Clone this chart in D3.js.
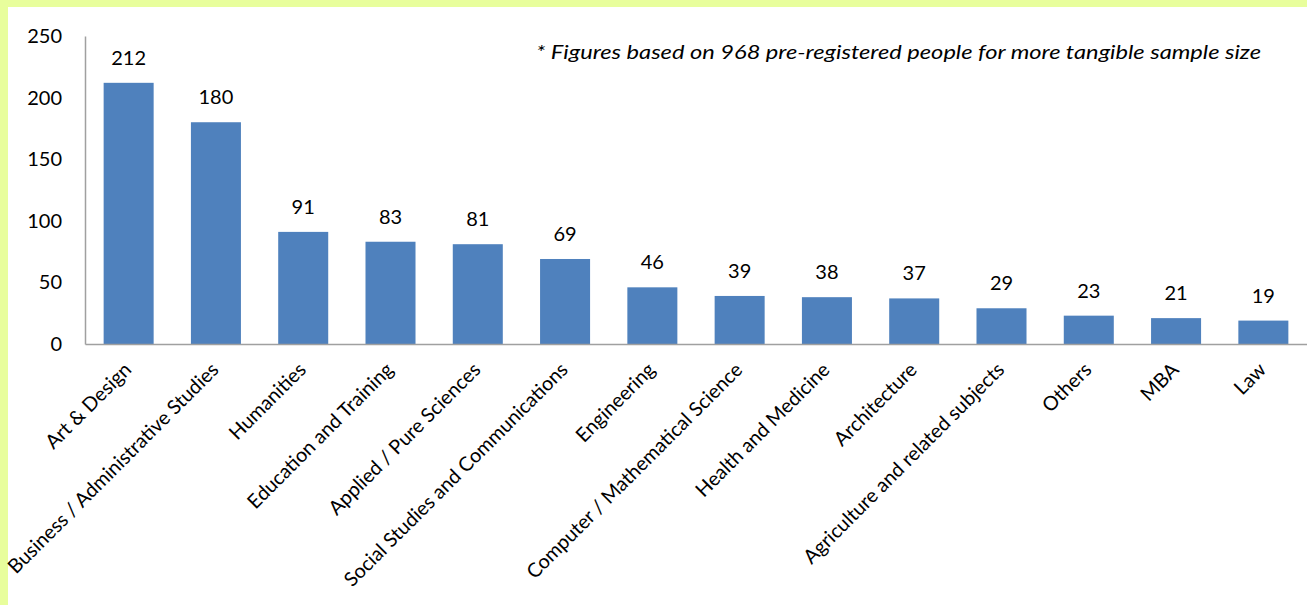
<!DOCTYPE html>
<html>
<head>
<meta charset="utf-8">
<script src="https://cdn.jsdelivr.net/npm/d3@7"></script>
<style>
  html, body { margin: 0; padding: 0; background: #e8fe9c; }
  svg { display: block; }
  text { font-family: Lato, "Open Sans", sans-serif; fill: #000; }
</style>
</head>
<body>
<svg id="chart" width="1307" height="605"></svg>
<script>
// Pre-registered people by field of study
const categories = [
  "Art & Design",
  "Business / Administrative Studies",
  "Humanities",
  "Education and Training",
  "Applied / Pure Sciences",
  "Social Studies and Communications",
  "Engineering",
  "Computer / Mathematical Science",
  "Health and Medicine",
  "Architecture",
  "Agriculture and related subjects",
  "Others",
  "MBA",
  "Law"
];
const values = [212, 180, 91, 83, 81, 69, 46, 39, 38, 37, 29, 23, 21, 19];
const yTicks = [0, 50, 100, 150, 200, 250];
const note = "* Figures based on 968 pre-registered people for more tangible sample size";

const W = 1307, H = 605;
const svg = d3.select("#chart");

// white panel inside the light green frame
svg.append("rect")
  .attr("x", 8).attr("y", 7)
  .attr("width", W - 8).attr("height", H - 7)
  .attr("fill", "#fff");

const plot = { left: 85, right: 1307, top: 36, bottom: 344 };

const x = d3.scaleBand()
  .domain(categories)
  .range([plot.left, plot.right])
  .paddingInner(0.427)
  .paddingOuter(0.2135);

const y = d3.scaleLinear()
  .domain([0, 250])
  .range([plot.bottom, plot.top]);

// bars
svg.append("g").selectAll("rect")
  .data(values)
  .join("rect")
  .attr("x", (d, i) => x(categories[i]))
  .attr("y", d => y(d))
  .attr("width", x.bandwidth())
  .attr("height", d => y(0) - y(d))
  .attr("fill", "#4f81bd");

// value labels
svg.append("g").selectAll("text")
  .data(values)
  .join("text")
  .attr("x", (d, i) => x(categories[i]) + x.bandwidth() / 2)
  .attr("y", d => y(d) - 18)
  .attr("text-anchor", "middle")
  .attr("font-size", 20)
  .text(d => d);

// y axis
const yAxis = d3.axisLeft(y).tickValues(yTicks).tickSize(0).tickPadding(23);
const gy = svg.append("g")
  .attr("transform", `translate(${plot.left},0)`)
  .call(yAxis);
gy.select(".domain").attr("stroke", "#a0a0a0").attr("stroke-width", 1.5);
gy.selectAll("text").attr("font-size", 20).attr("fill", "#000")
  .attr("font-family", "Lato, 'Open Sans', sans-serif");

// x axis (baseline + rotated category labels)
const xAxis = d3.axisBottom(x).tickSize(0).tickPadding(0);
const gx = svg.append("g")
  .attr("transform", `translate(0,${plot.bottom})`)
  .call(xAxis);
gx.select(".domain").attr("stroke", "#a0a0a0").attr("stroke-width", 1.5);
gx.selectAll(".tick text")
  .attr("font-size", 19.8)
  .attr("fill", "#000")
  .attr("font-family", "Lato, 'Open Sans', sans-serif")
  .attr("text-anchor", "end")
  .attr("dy", 0)
  .attr("y", 0)
  .attr("transform", "translate(4,27) rotate(-45)");

// footnote
svg.append("text")
  .attr("x", 536)
  .attr("y", 59)
  .attr("font-size", 20)
  .attr("font-style", "italic")
  .attr("textLength", 725)
  .attr("lengthAdjust", "spacingAndGlyphs")
  .text(note);
</script>
</body>
</html>
